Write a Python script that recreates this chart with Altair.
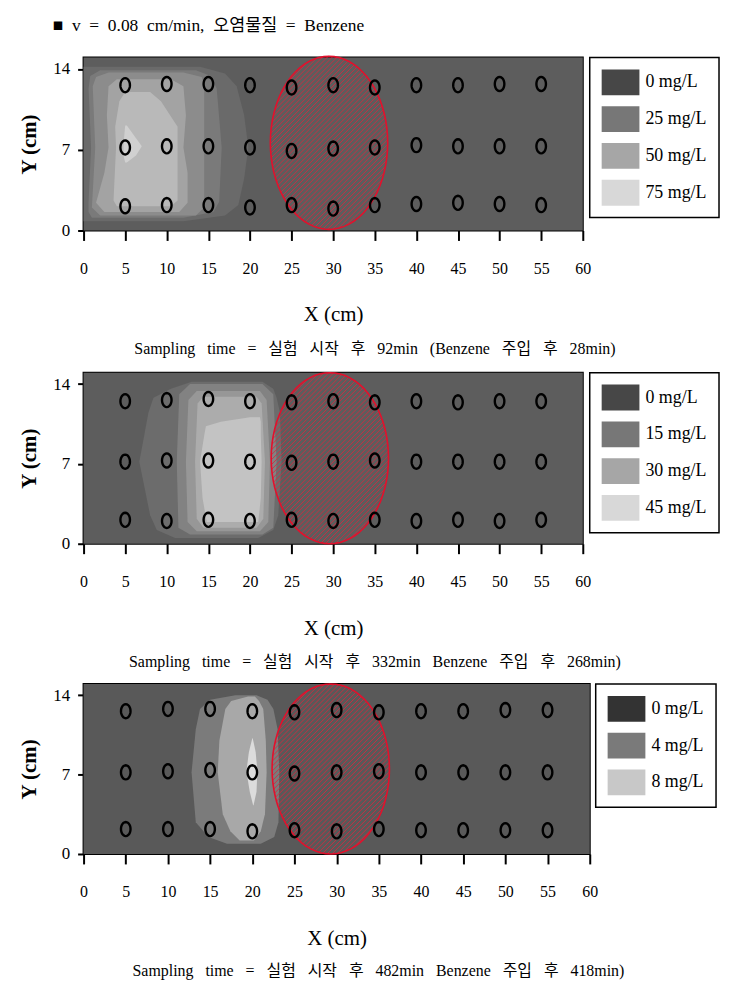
import math
import altair as alt
import pandas as pd

FONT = "'Liberation Serif', 'Noto Sans CJK KR', serif"
SP2 = "\u00a0\u00a0"
SP3 = "\u00a0\u00a0\u00a0"

# ---------------- text ----------------
header_words = ["■", "v", "=", "0.08", "cm/min,", "오염물질", "=", "Benzene"]
caption_words = [
    ["Sampling", "time", "=", "실험", "시작", "후", "92min", "(Benzene", "주입", "후", "28min)"],
    ["Sampling", "time", "=", "실험", "시작", "후", "332min", "Benzene", "주입", "후", "268min)"],
    ["Sampling", "time", "=", "실험", "시작", "후", "482min", "Benzene", "주입", "후", "418min)"],
]
x_ticks = [0, 5, 10, 15, 20, 25, 30, 35, 40, 45, 50, 55, 60]
y_ticks = [0, 7, 14]

# ---------------- legends ----------------
legend_labels = [
    ["0 mg/L", "25 mg/L", "50 mg/L", "75 mg/L"],
    ["0 mg/L", "15 mg/L", "30 mg/L", "45 mg/L"],
    ["0 mg/L", "4 mg/L", "8 mg/L"],
]
legend_colors = [
    ["#474747", "#777777", "#a6a6a6", "#d8d8d8"],
    ["#474747", "#777777", "#a6a6a6", "#d8d8d8"],
    ["#333333", "#7a7a7a", "#c8c8c8"],
]
background = ["#5d5d5d", "#5d5d5d", "#595959"]

# ---------------- sampling ports ----------------
sample_x = [5, 10, 15, 20, 25, 30, 35, 40, 45, 50, 55]
p1_top = [12.6, 12.7, 12.7, 12.6, 12.4, 12.6, 12.4, 12.6, 12.6, 12.7, 12.7]
p1_mid = [7.2, 7.3, 7.3, 7.2, 6.9, 7.1, 7.2, 7.4, 7.3, 7.3, 7.3]
p1_bot = [2.1, 2.2, 2.2, 2.0, 2.2, 1.9, 2.2, 2.3, 2.4, 2.3, 2.2]
p2_top = [12.5, 12.6, 12.7, 12.5, 12.4, 12.5, 12.4, 12.5, 12.4, 12.5, 12.5]
p2_mid = [7.2, 7.3, 7.3, 7.2, 7.1, 7.2, 7.3, 7.2, 7.2, 7.2, 7.2]
p2_bot = [2.1, 2.0, 2.1, 2.0, 2.1, 2.0, 2.1, 2.0, 2.1, 2.0, 2.1]
p3_top = [12.6, 12.8, 12.8, 12.6, 12.5, 12.7, 12.5, 12.6, 12.6, 12.7, 12.7]
p3_mid = [7.2, 7.3, 7.4, 7.2, 7.1, 7.2, 7.3, 7.2, 7.2, 7.2, 7.2]
p3_bot = [2.2, 2.2, 2.2, 2.0, 2.1, 2.0, 2.2, 2.1, 2.1, 2.1, 2.1]
ports = [(p1_top, p1_mid, p1_bot), (p2_top, p2_mid, p2_bot), (p3_top, p3_mid, p3_bot)]

# ---------------- contamination zone (hatched ellipse) centre ----------------
zone_x = [29.5, 29.6, 29.3]
zone_y = [7.6, 7.5, 7.5]

# ---------------- contour bands: (colour, y, x-left, x-right) ----------------
p1_bands = [
    ("#6a6a6a", [0.8, 1.3, 2.2, 4.5, 7.2, 10.0, 12.5, 13.6, 14.2],
     [0, 0, 0, 0, 0, 0, 0, 0, 0],
     [12.0, 17.0, 18.6, 19.3, 19.8, 19.3, 18.4, 17.0, 14.0]),
    ("#7a7a7a", [1.1, 1.6, 2.5, 7.2, 12.3, 13.4, 13.9],
     [1.0, 0.6, 0.6, 0.9, 0.6, 0.8, 2.0],
     [12.0, 15.6, 16.3, 16.6, 16.0, 15.3, 13.5]),
    ("#8c8c8c", [1.3, 2.0, 7.2, 12.5, 13.3, 13.7],
     [2.0, 1.0, 1.4, 1.1, 1.5, 3.0],
     [13.5, 14.5, 14.5, 14.5, 14.2, 12.0]),
    ("#a3a3a3", [1.6, 2.4, 5.0, 7.2, 10.0, 12.5, 13.1],
     [2.5, 1.5, 2.5, 3.0, 2.8, 3.0, 4.0],
     [11.5, 12.5, 12.5, 12.0, 12.3, 12.0, 10.5]),
    ("#b9b9b9", [2.1, 2.6, 7.2, 9.0, 11.2, 12.0],
     [4.0, 3.6, 3.9, 3.8, 4.3, 5.0],
     [10.5, 11.3, 11.3, 11.3, 9.3, 8.0]),
    ("#d0d0d0", [5.9, 6.5, 7.3, 8.3, 9.1],
     [5.0, 4.8, 4.8, 4.9, 5.0],
     [5.2, 6.3, 7.0, 6.0, 5.2]),
]
p2_bands = [
    ("#6c6c6c", [0.5, 1.2, 2.5, 7.2, 11.5, 12.8, 13.6, 14.2],
     [11.0, 8.8, 8.0, 6.7, 7.8, 8.4, 10.5, 13.0],
     [21.0, 22.8, 23.4, 23.8, 23.6, 23.2, 22.8, 21.5]),
    ("#828282", [0.8, 1.4, 7.2, 13.1, 14.0],
     [12.8, 11.4, 11.2, 11.5, 12.8],
     [21.5, 22.8, 23.2, 22.8, 21.5]),
    ("#979797", [1.1, 1.9, 7.2, 12.6, 13.4],
     [13.6, 12.5, 12.3, 12.6, 13.6],
     [21.2, 22.2, 22.4, 22.0, 21.2]),
    ("#acacac", [1.4, 2.2, 7.2, 12.3, 12.9],
     [14.4, 13.6, 13.4, 13.7, 14.4],
     [20.8, 21.6, 21.8, 21.4, 20.8]),
    ("#c3c3c3", [1.9, 4.0, 7.2, 9.5, 10.3, 10.7, 11.1],
     [14.8, 14.3, 14.0, 14.5, 14.7, 16.5, 20.0],
     [21.0, 21.3, 21.4, 21.3, 21.3, 21.3, 21.2]),
]
p3_bands = [
    ("#7b7b7b", [0.9, 1.5, 2.8, 7.2, 11.0, 12.8, 13.6, 14.0],
     [17.0, 14.8, 13.3, 12.8, 13.3, 13.8, 15.0, 18.0],
     [21.0, 22.6, 23.1, 23.2, 23.0, 22.5, 21.8, 20.5]),
    ("#a8a8a8", [1.2, 2.0, 3.5, 7.2, 10.0, 12.8, 13.5, 13.9],
     [18.5, 17.4, 16.5, 15.9, 16.1, 16.8, 17.5, 19.5],
     [20.2, 21.0, 21.5, 21.7, 21.6, 21.3, 20.8, 20.3]),
    ("#dcdcdc", [4.3, 5.5, 7.3, 9.0, 10.2],
     [20.1, 19.7, 19.3, 19.6, 20.0],
     [20.15, 20.5, 20.6, 20.4, 20.05]),
]
bands = [p1_bands, p2_bands, p3_bands]

# panel geometry (styles)
panel_w = [502, 502, 509]
panel_h = [174, 172, 171]
legend_offset = [7, 7, 6]
caption_offset = [16, 16, 15]


# ---------------- marker shapes (style) ----------------
def ellipse_shape(a, n=72):
    pts = []
    for k in range(n):
        t = 2 * math.pi * k / n
        pts.append(f"{a * math.cos(t):.4f},{math.sin(t):.4f}")
    return "M" + " L".join(pts) + " Z"


def hatch_shape(a, step):
    A = 1 / (a * a) + 1
    cmax = math.sqrt(a * a + 1)
    segs = []
    c = -cmax + step / 2
    while c < cmax:
        B = -2 * c
        C = c * c - 1
        disc = B * B - 4 * A * C
        if disc > 0:
            s = math.sqrt(disc)
            x1 = (-B - s) / (2 * A)
            x2 = (-B + s) / (2 * A)
            segs.append(f"M{x1:.4f},{c - x1:.4f} L{x2:.4f},{c - x2:.4f}")
        c += step
    return " ".join(segs)


RECT_SYM = "M-1,-1 L1.92,-1 L1.92,1 L-1,1 Z"
PORT_SYM = ellipse_shape(0.68, 24)


def panel(i):
    w, h = panel_w[i], panel_h[i]
    xs = alt.Scale(domain=[0, 60], nice=False, zero=False)
    ys = alt.Scale(domain=[0, 15], nice=False, zero=False)
    xaxis = alt.Axis(values=x_ticks, title="X (cm)", titleFont=FONT, titleFontSize=21,
                     titleFontWeight="normal", titleColor="black", titlePadding=28,
                     labelFont=FONT, labelFontSize=16, labelColor="black", labelPadding=20,
                     labelAngle=0, tickSize=10, tickWidth=2, tickColor="black",
                     domain=False, grid=False, labelFlush=False)
    yaxis = alt.Axis(values=y_ticks, title="Y (cm)", titleFont=FONT, titleFontSize=21,
                     titleFontWeight="bold", titleColor="black", titlePadding=13,
                     labelFont=FONT, labelFontSize=17, labelColor="black", labelPadding=8,
                     tickSize=6, tickWidth=2, tickColor="black",
                     domain=False, grid=False, labelFlush=False)

    def X(f):
        return alt.X(f, scale=xs, axis=xaxis)

    def Y(f):
        return alt.Y(f, scale=ys, axis=yaxis)

    layers = []
    # plot background (rect without position fills the whole view)
    layers.append(alt.Chart(pd.DataFrame({"bg": [0]})).mark_rect(color=background[i], opacity=1))

    for k, (col, yy, xl, xr) in enumerate(bands[i]):
        df = pd.DataFrame({"y": yy, "xl": xl, "xr": xr})
        layers.append(
            alt.Chart(df).mark_area(orient="horizontal", color=col, interpolate="linear").encode(
                y=Y("y:Q"), x=X("xl:Q"), x2="xr:Q",
            )
        )

    # contamination zone
    ry = h / 2.0
    rx = 59.0
    a = rx / ry
    zdf = pd.DataFrame({"x": [zone_x[i]], "y": [zone_y[i]]})
    size = (2 * ry) ** 2
    layers.append(
        alt.Chart(zdf).mark_point(shape=hatch_shape(a, 3.5 * math.sqrt(2) / ry), size=size,
                                  filled=False, stroke="#d42a40", strokeWidth=1, opacity=0.85).encode(
            x=X("x:Q"), y=Y("y:Q"))
    )
    layers.append(
        alt.Chart(zdf).mark_point(shape=ellipse_shape(a), size=size, filled=False,
                                  stroke="#e3102c", strokeWidth=1.6, opacity=1).encode(
            x=X("x:Q"), y=Y("y:Q"))
    )

    # sampling ports
    top, mid, bot = ports[i]
    pdf = pd.DataFrame({"x": sample_x * 3, "y": top + mid + bot})
    layers.append(
        alt.Chart(pdf).mark_point(shape=PORT_SYM, size=200, filled=False, stroke="black",
                                  strokeWidth=2.4, opacity=1).encode(
            x=X("x:Q"), y=Y("y:Q"))
    )

    # legend carrier
    ldf = pd.DataFrame({"label": legend_labels[i]})
    layers.append(
        alt.Chart(ldf).mark_rect(opacity=0).encode(
            color=alt.Color("label:N", sort=legend_labels[i],
                            scale=alt.Scale(domain=legend_labels[i], range=legend_colors[i]),
                            legend=alt.Legend(title=None, orient="right", offset=legend_offset[i],
                                              padding=12, strokeColor="black", fillColor="white",
                                              symbolType=RECT_SYM, symbolSize=676,
                                              symbolStrokeWidth=0, symbolOpacity=1,
                                              labelFont=FONT, labelFontSize=18, labelColor="black",
                                              labelOffset=18, rowPadding=11, labelLimit=300))
        )
    )

    return alt.layer(*layers).properties(
        width=w, height=h,
        title=alt.TitleParams(SP3.join(caption_words[i]), orient="bottom", anchor="middle",
                              font=FONT, fontSize=16, fontWeight="normal", color="black",
                              offset=caption_offset[i], dx=42),
    )


top_two = alt.vconcat(panel(0), panel(1), spacing=10).resolve_scale(color="independent")
chart = alt.vconcat(top_two, panel(2), spacing=8).resolve_scale(
    color="independent"
).properties(
    title=alt.TitleParams(SP2.join(header_words), anchor="start", font=FONT, fontSize=17.5,
                          fontWeight="normal", color="black", dx=35, offset=18),
    padding={"left": 10, "top": 6, "right": 0, "bottom": 0},
).configure_view(
    stroke="black", strokeWidth=2
).configure_legend(strokeWidth=1.5)

chart.save("out.html", embed_options={"renderer": "svg", "actions": False})
